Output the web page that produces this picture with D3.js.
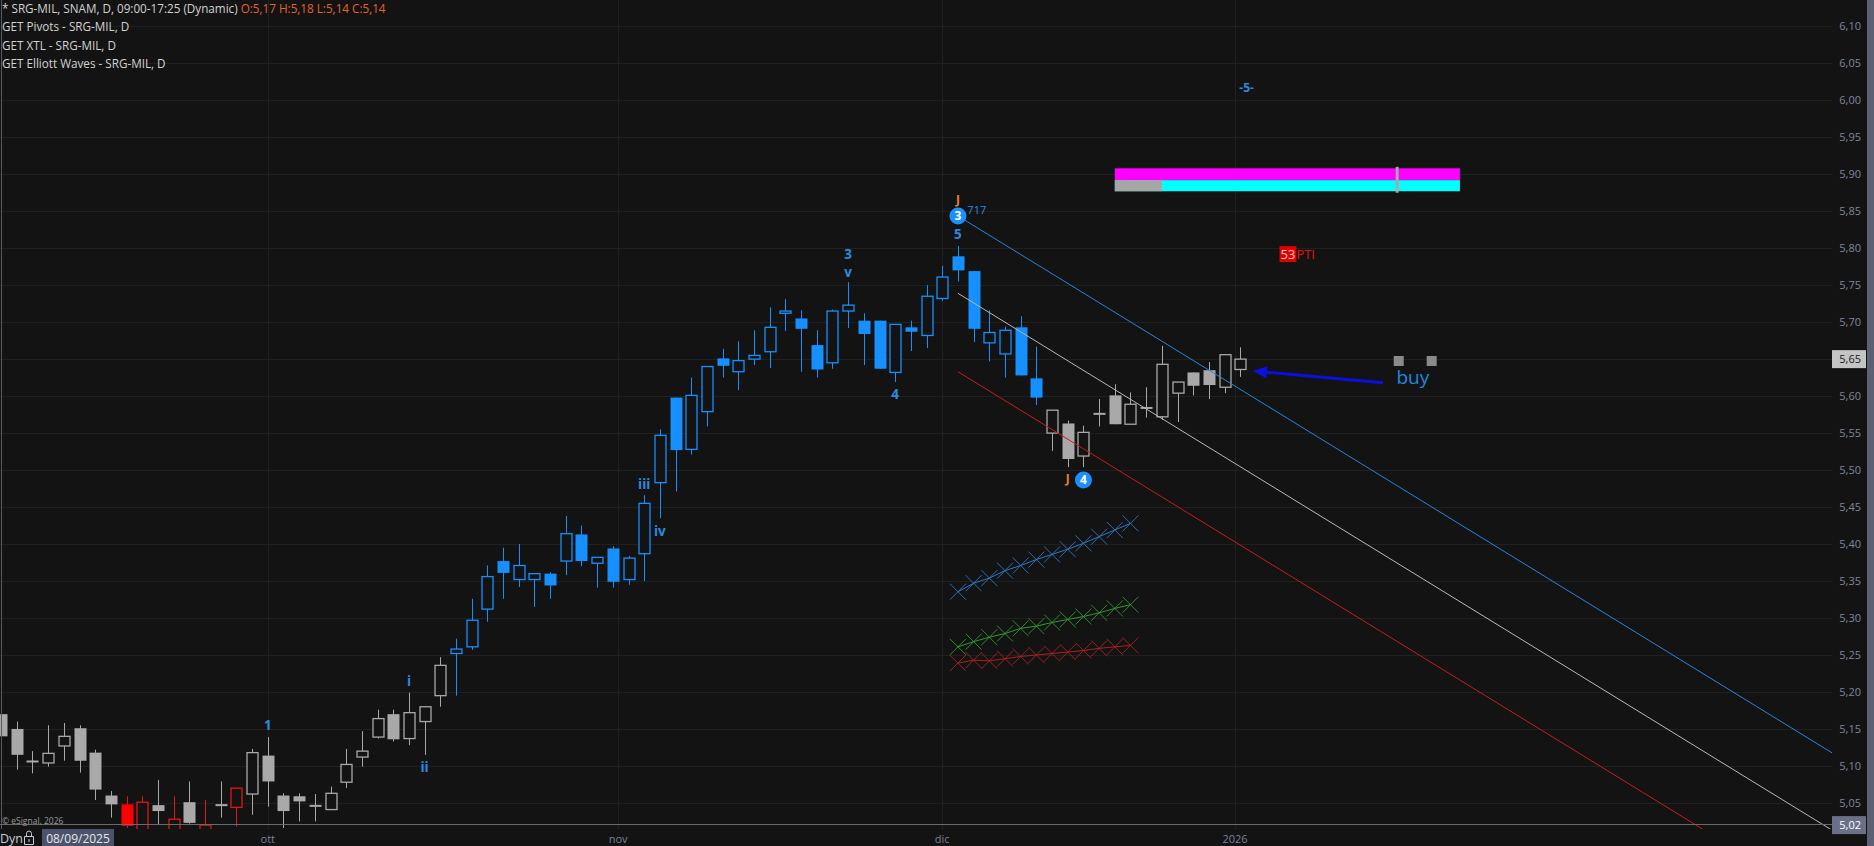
<!DOCTYPE html>
<html><head><meta charset="utf-8">
<script src="https://cdn.jsdelivr.net/npm/d3@7"></script>
<style>
html,body{margin:0;padding:0;background:#131313;overflow:hidden}
svg{display:block}
</style></head><body>
<svg id="c" width="1874" height="846"></svg>
<script>
// ---------------- DATA ----------------
const dates = ["2025-09-08","2025-09-09","2025-09-10","2025-09-11","2025-09-12",
"2025-09-15","2025-09-16","2025-09-17","2025-09-18","2025-09-19",
"2025-09-22","2025-09-23","2025-09-24","2025-09-25","2025-09-26",
"2025-09-29","2025-09-30","2025-10-01","2025-10-02","2025-10-03",
"2025-10-06","2025-10-07","2025-10-08","2025-10-09","2025-10-10",
"2025-10-13","2025-10-14","2025-10-15","2025-10-16","2025-10-17",
"2025-10-20","2025-10-21","2025-10-22","2025-10-23","2025-10-24",
"2025-10-27","2025-10-28","2025-10-29","2025-10-30","2025-10-31",
"2025-11-03","2025-11-04","2025-11-05","2025-11-06","2025-11-07",
"2025-11-10","2025-11-11","2025-11-12","2025-11-13","2025-11-14",
"2025-11-17","2025-11-18","2025-11-19","2025-11-20","2025-11-21",
"2025-11-24","2025-11-25","2025-11-26","2025-11-27","2025-11-28",
"2025-12-01","2025-12-02","2025-12-03","2025-12-04","2025-12-05",
"2025-12-08","2025-12-09","2025-12-10","2025-12-11","2025-12-12",
"2025-12-15","2025-12-16","2025-12-17","2025-12-18","2025-12-19",
"2025-12-22","2025-12-23","2025-12-29","2025-12-30","2026-01-02"];

const open = [5.17,5.15,5.106,5.104,5.127, 5.151,5.118,5.06,5.048,5.00,
5.047,5.00,5.051,5.00,5.047, 5.044,5.062,5.114,5.06,5.059,
5.046,5.041,5.078,5.112,5.139, 5.17,5.137,5.16,5.195,5.252,
5.261,5.312,5.377,5.352,5.352, 5.36,5.377,5.413,5.374,5.394,
5.352,5.387,5.483,5.598,5.528, 5.579,5.651,5.633,5.65,5.66,
5.712,5.705,5.669,5.645,5.715, 5.702,5.702,5.632,5.693,5.682,
5.732,5.789,5.769,5.672,5.657, 5.693,5.624,5.55,5.563,5.519,
5.576,5.601,5.562,5.584,5.572, 5.604,5.632,5.635,5.612,5.636];

const high = [5.18,5.16,5.12,5.155,5.158, 5.155,5.122,5.066,5.059,5.059,
5.081,5.059,5.079,5.054,5.079, 5.07,5.123,5.139,5.063,5.063,
5.062,5.072,5.123,5.147,5.176, 5.176,5.199,5.18,5.247,5.272,
5.326,5.371,5.395,5.40,5.36, 5.362,5.438,5.425,5.382,5.397,
5.384,5.466,5.555,5.598,5.625, 5.64,5.664,5.674,5.689,5.72,
5.731,5.716,5.689,5.717,5.754, 5.712,5.702,5.697,5.702,5.75,
5.776,5.803,5.769,5.716,5.694, 5.708,5.667,5.581,5.567,5.56,
5.596,5.616,5.605,5.612,5.668, 5.619,5.632,5.646,5.656,5.666];

const low = [5.14,5.095,5.09,5.099,5.107, 5.091,5.054,5.03,5.016,4.99,
5.02,4.99,5.022,4.99,5.03, 5.018,5.034,5.045,5.016,5.025,
5.025,5.041,5.07,5.099,5.137, 5.133,5.128,5.115,5.18,5.195,
5.257,5.295,5.326,5.342,5.315, 5.326,5.358,5.37,5.341,5.341,
5.345,5.35,5.435,5.471,5.521, 5.559,5.625,5.608,5.642,5.638,
5.688,5.633,5.625,5.637,5.692, 5.642,5.637,5.619,5.661,5.665,
5.729,5.755,5.673,5.647,5.625, 5.628,5.588,5.526,5.504,5.504,
5.559,5.562,5.562,5.571,5.568, 5.565,5.601,5.596,5.604,5.626];

const close = [5.14,5.115,5.106,5.117,5.14, 5.107,5.068,5.048,5.019,5.051,
5.039,5.028,5.023,5.02,5.047, 5.07,5.118,5.079,5.039,5.052,
5.046,5.063,5.102,5.12,5.164, 5.136,5.172,5.18,5.236,5.258,
5.297,5.356,5.361,5.371,5.36, 5.344,5.414,5.377,5.382,5.349,
5.381,5.455,5.547,5.527,5.601, 5.64,5.641,5.648,5.655,5.693,
5.715,5.691,5.636,5.715,5.723, 5.684,5.637,5.697,5.687,5.735,
5.761,5.77,5.691,5.686,5.689, 5.628,5.598,5.581,5.515,5.551,
5.576,5.562,5.589,5.584,5.643, 5.619,5.614,5.615,5.656,5.65];

// bar state: n = neutral, r = down regime, b = up regime
const barState = ["nnnnnnnnrrnrnrnr","nnnnnnnnnnnnn","bbbbbbbbbb","bbbbbbbbbb","bbbbbbbbbb","bbbbbbbb","nnnnnnnnnnnnn"].join("").split("");

const yTicks = [5.05,5.10,5.15,5.20,5.25,5.30,5.35,5.40,5.45,5.50,5.55,5.60,5.65,5.70,5.75,5.80,5.85,5.90,5.95,6.00,6.05,6.10];
const monthStarts = ["2025-10-01","2025-11-01","2025-12-01","2026-01-01"];
const monthLabels = ["ott","nov","dic","2026"];

const headerSymbol = "* SRG-MIL, SNAM, D, 09:00-17:25 (Dynamic)";
const studyLines = ["GET Pivots - SRG-MIL, D","GET XTL - SRG-MIL, D","GET Elliott Waves - SRG-MIL, D"];

// Elliott wave labels: [text, bar index, price]
const waveLabels = [["1",17,5.155],["i",26,5.214],["ii",27,5.098],["iii",41,5.481],["iv",42,5.418],
  ["3",54,5.792],["v",54,5.768],["4",57,5.603],["5",61,5.819]];
const circleLabels = [["3",61,5.8435],["4",69,5.4866]];
const jLabels = [["J",61,5.866],["J",68,5.488]];
const smallLabels = [["717",61.6,5.852],["-5-",79.4,6.017]];

// XTL channel lines: [startIndex, startPrice, endIndex, endPrice]
const channelBlue = [61, 5.8436, 117, 5.1141];
const channelMid  = [61, 5.739, 117, 5.0095];
const channelRed  = [61, 5.633, 117, 4.9035];

// projection bands (one point per bar from index 61)
const bandStart = 61;
const bandBlue  = [5.3355,5.347,5.354,5.364,5.371,5.379,5.386,5.393,5.401,5.410,5.419,5.428];
const bandGreen = [5.261,5.268,5.274,5.279,5.286,5.289,5.294,5.298,5.302,5.307,5.313,5.318];
const bandRed   = [5.239,5.243,5.242,5.245,5.248,5.250,5.252,5.254,5.256,5.259,5.261,5.263];

// pivot zone: [i0, i1, priceTop, priceBottom]
const pivotUpper = [71, 93, 5.908, 5.892];
const pivotLower = [71, 93, 5.892, 5.877];
const pivotLowerGray = [71, 74, 5.892, 5.877];
const pivotTick = [89, 5.910, 5.875];

const signalText = ["53","PTI", 81.5, 5.792];
const buyText = ["buy", 90.0, 5.616];
const buyMarks = [[89.1, 5.6475],[91.2, 5.6475]];
const buyArrow = [[88.1, 5.618],[79.8, 5.634]];

const cursorPrice = 5.02;
const cursorDate = "08/09/2025";
const lastPrice = close[close.length-1];

// ---------------- CHART ----------------
const W = 1874, H = 846;
const plotR = 1832, plotB = 829;
const BG = "#131313";
const col = {n:"#a9a9a9", r:"#ff0000", b:"#1690ff"};
const colLine = {n:"#a9a9a9", r:"#e01616", b:"#1690ff"};

const svg = d3.select("#c");
svg.append("rect").attr("width",W).attr("height",H).attr("fill",BG);

const x = d3.scaleLinear().domain([0,79]).range([1.1,1240.3]);
const y = d3.scaleLinear().domain([5.02,6.10]).range([825.1,26.3]);

const itLocale = d3.formatLocale({decimal:",",thousands:".",grouping:[3],currency:["€",""]});
const f2 = itLocale.format(".2f");

svg.append("clipPath").attr("id","plot").append("rect").attr("x",0).attr("y",0).attr("width",plotR).attr("height",plotB);
const g = svg.append("g").attr("clip-path","url(#plot)");

// grid
g.append("g").selectAll("line").data(yTicks).join("line")
  .attr("x1",0).attr("x2",plotR).attr("y1",d=>Math.round(y(d))+0.5).attr("y2",d=>Math.round(y(d))+0.5)
  .attr("stroke","#202020").attr("stroke-width",1);

const parse = d3.timeParse("%Y-%m-%d");
const dt = dates.map(parse);
function dateToIndex(d){
  for(let k=0;k<dt.length-1;k++){
    if(d>=dt[k] && d<dt[k+1]) return k + (d-dt[k])/(dt[k+1]-dt[k]);
  }
  return dt.length-1;
}
const monthPos = monthStarts.map(s=>x(dateToIndex(parse(s))));
g.append("g").selectAll("line").data(monthPos).join("line")
  .attr("x1",d=>Math.round(d)+0.5).attr("x2",d=>Math.round(d)+0.5).attr("y1",0).attr("y2",plotB)
  .attr("stroke","#202020");

// projection bands
function drawBand(vals, color){
  const pts = vals.map((v,k)=>[x(bandStart+k), y(v)]);
  g.append("path").attr("d", d3.line()(pts)).attr("fill","none").attr("stroke",color).attr("stroke-width",1);
  const s = 8;
  g.append("g").selectAll("path").data(pts).join("path")
    .attr("d",p=>`M${p[0]-s},${p[1]-s}L${p[0]+s},${p[1]+s}M${p[0]-s},${p[1]+s}L${p[0]+s},${p[1]-s}`)
    .attr("stroke",color).attr("stroke-width",0.9).attr("fill","none");
}
drawBand(bandBlue, "#2f78c4");
drawBand(bandGreen, "#2f9a2f");
drawBand(bandRed, "#a82222");

// candles
const idx = d3.range(dates.length);
const bw = 12;
const cg = g.append("g");
cg.selectAll("line.w").data(idx).join("line").attr("class","w")
  .attr("x1",i=>Math.round(x(i))+0.5).attr("x2",i=>Math.round(x(i))+0.5)
  .attr("y1",i=>y(high[i])).attr("y2",i=>y(low[i]))
  .attr("stroke",i=>colLine[barState[i]]).attr("stroke-width",1);
idx.forEach(i=>{
  const cx = Math.round(x(i))+0.5;
  const o = open[i], c = close[i], st = barState[i];
  if (Math.abs(o-c) < 0.0015){
    cg.append("line").attr("x1",cx-bw/2).attr("x2",cx+bw/2).attr("y1",y(o)).attr("y2",y(o))
      .attr("stroke",colLine[st]).attr("stroke-width",2);
  } else if (c < o){
    cg.append("rect").attr("x",cx-bw/2).attr("width",bw).attr("y",y(o)).attr("height",y(c)-y(o))
      .attr("fill",col[st]);
  } else {
    cg.append("rect").attr("x",cx-bw/2+0.5).attr("width",bw-1).attr("y",y(c)).attr("height",y(o)-y(c))
      .attr("fill",BG).attr("stroke",colLine[st]).attr("stroke-width",1.3);
  }
});

// channel lines
[[channelBlue,"#2b84d8"],[channelMid,"#b8b8b8"],[channelRed,"#c81c1c"]].forEach(([l,c])=>{
  g.append("line").attr("x1",x(l[0])).attr("y1",y(l[1])).attr("x2",x(l[2])).attr("y2",y(l[3]))
    .attr("stroke",c).attr("stroke-width",1);
});

// pivot zone
function zone(z,c){ g.append("rect").attr("x",x(z[0])).attr("width",x(z[1])-x(z[0])).attr("y",y(z[2])).attr("height",y(z[3])-y(z[2])).attr("fill",c); }
zone(pivotUpper,"#ff00ff");
zone(pivotLower,"#00ffff");
zone(pivotLowerGray,"#a6a6a6");
g.append("rect").attr("x",x(pivotTick[0])-1.5).attr("width",3).attr("y",y(pivotTick[1])).attr("height",y(pivotTick[2])-y(pivotTick[1])).attr("fill","#a8a8a8");

// wave labels
const lblFont = "'Open Sans', 'Noto Sans', sans-serif";
g.append("g").selectAll("text").data(waveLabels).join("text")
  .attr("x",d=>x(d[1])).attr("y",d=>y(d[2])).attr("dy","0.36em").attr("text-anchor","middle")
  .attr("font-family",lblFont).attr("font-weight",700).attr("font-size",13.5).attr("fill","#2a8be0").text(d=>d[0]);
circleLabels.forEach(d=>{
  g.append("circle").attr("cx",x(d[1])).attr("cy",y(d[2])).attr("r",8.5).attr("fill","#1a8fff");
  g.append("text").attr("x",x(d[1])).attr("y",y(d[2])).attr("dy","0.36em").attr("text-anchor","middle")
   .attr("font-family",lblFont).attr("font-weight",700).attr("font-size",12).attr("fill","#ffffff").text(d[0]);
});
g.append("g").selectAll("text").data(jLabels).join("text")
  .attr("x",d=>x(d[1])).attr("y",d=>y(d[2])).attr("dy","0.36em").attr("text-anchor","middle")
  .attr("font-family",lblFont).attr("font-weight",700).attr("font-size",12).attr("fill","#e8803c").text(d=>d[0]);
g.append("g").selectAll("text").data(smallLabels).join("text")
  .attr("x",d=>x(d[1])).attr("y",d=>y(d[2])).attr("dy","0.36em").attr("text-anchor",(d,k)=>k===0?"start":"middle")
  .attr("font-family",lblFont).attr("font-size",(d,k)=>k===0?11:12).attr("font-weight",(d,k)=>k===0?400:700)
  .attr("fill","#2a8be0").text(d=>d[0]);

// signal text
const sx = x(signalText[2]), sy = y(signalText[3]);
const st1 = g.append("text").attr("x",sx+1).attr("y",sy).attr("dy","0.36em")
  .attr("font-family",lblFont).attr("font-size",13).attr("fill","#ffc8c8").text(signalText[0]);
const bb = st1.node().getBBox();
g.insert("rect", () => st1.node()).attr("x",bb.x-1).attr("y",sy-8).attr("width",bb.width+2).attr("height",16).attr("fill","#e00000");
g.append("text").attr("x",bb.x+bb.width+1).attr("y",sy).attr("dy","0.36em")
  .attr("font-family",lblFont).attr("font-size",13).attr("fill","#e01515").text(signalText[1]);

// buy annotation
g.append("g").selectAll("rect").data(buyMarks).join("rect")
  .attr("x",d=>x(d[0])-5).attr("y",d=>y(d[1])-5).attr("width",10).attr("height",10).attr("fill","#8a8a8a");
g.append("text").attr("x",x(buyText[1])).attr("y",y(buyText[2])).attr("text-anchor","middle")
  .attr("font-family",lblFont).attr("font-size",19).attr("fill","#1e8ae0").text(buyText[0]);
{
  const [a,b] = buyArrow;
  const x1=x(a[0]), y1=y(a[1]), x2=x(b[0]), y2=y(b[1]);
  const ang = Math.atan2(y2-y1,x2-x1);
  const hl = 14, hw = 6;
  const bx = x2 - hl*Math.cos(ang), by = y2 - hl*Math.sin(ang);
  g.append("line").attr("x1",x1).attr("y1",y1).attr("x2",bx).attr("y2",by).attr("stroke","#0a10e0").attr("stroke-width",3);
  g.append("path").attr("d",`M${x2},${y2}L${bx - hw*Math.sin(ang)},${by + hw*Math.cos(ang)}L${bx + hw*Math.sin(ang)},${by - hw*Math.cos(ang)}Z`).attr("fill","#0a10e0");
}

// crosshair
svg.append("line").attr("x1",1.5).attr("x2",1.5).attr("y1",0).attr("y2",plotB).attr("stroke","#5a5a5a");
svg.append("line").attr("x1",0).attr("x2",plotR).attr("y1",Math.round(y(cursorPrice))-0.5).attr("y2",Math.round(y(cursorPrice))-0.5).attr("stroke","#6a6a6a");

// header
const hf = "'Open Sans', 'Noto Sans', sans-serif";
const h1 = svg.append("text").attr("x",2).attr("y",12.5).attr("font-family",hf).attr("font-size",11.7).attr("fill","#d2d2d2");
h1.append("tspan").text(headerSymbol + " ");
h1.append("tspan").attr("fill","#e8622e").text(`O:${f2(open[0])} H:${f2(high[0])} L:${f2(low[0])} C:${f2(close[0])}`);
svg.append("g").selectAll("text").data(studyLines).join("text")
  .attr("x",2).attr("y",(d,k)=>31+k*18.5).attr("font-family",hf).attr("font-size",11.7).attr("fill","#d2d2d2").text(d=>d);

// copyright
svg.append("text").attr("x",2).attr("y",824).attr("font-family",hf).attr("font-size",8.5).attr("fill","#9a9a9a").text("© eSignal, 2026");

// right axis
const ax = svg.append("g");
ax.selectAll("text").data(yTicks.filter(v=>Math.abs(v-lastPrice)>0.01)).join("text")
  .attr("x",1861).attr("y",d=>y(d)).attr("dy","0.36em").attr("text-anchor","end")
  .attr("font-family",hf).attr("font-size",11).attr("fill","#80859a").text(d=>f2(d));
ax.append("rect").attr("x",1832).attr("y",y(lastPrice)-9).attr("width",34).attr("height",18).attr("fill","#c4c4c4");
ax.append("text").attr("x",1861).attr("y",y(lastPrice)).attr("dy","0.36em").attr("text-anchor","end")
  .attr("font-family",hf).attr("font-size",11).attr("fill","#1a1a1a").text(f2(lastPrice));
ax.append("rect").attr("x",1832).attr("y",y(cursorPrice)-9).attr("width",34).attr("height",18).attr("fill","#6b7089");
ax.append("text").attr("x",1861).attr("y",y(cursorPrice)).attr("dy","0.36em").attr("text-anchor","end")
  .attr("font-family",hf).attr("font-size",11).attr("fill","#ffffff").text(f2(cursorPrice));
svg.append("rect").attr("x",1867).attr("y",0).attr("width",7).attr("height",H).attr("fill","#5b6072");

// bottom axis labels
svg.append("g").selectAll("text").data(monthLabels).join("text")
  .attr("x",(d,k)=>monthPos[k]).attr("y",842.5).attr("text-anchor","middle")
  .attr("font-family",hf).attr("font-size",11).attr("fill","#7c8196").text(d=>d);

svg.append("text").attr("x",0).attr("y",842.5).attr("font-family",hf).attr("font-size",12.5).attr("fill","#c8ccd8").text("Dyn");
// lock icon
svg.append("path").attr("d","M24.5,836.5h9v8h-9z").attr("fill","none").attr("stroke","#c8ccd8").attr("stroke-width",1);
svg.append("path").attr("d","M26.5,836.5v-3a2.5,2.5 0 0 1 5,0v3").attr("fill","none").attr("stroke","#c8ccd8").attr("stroke-width",1);
svg.append("rect").attr("x",28.5).attr("y",839).attr("width",1).attr("height",3).attr("fill","#c8ccd8");
svg.append("rect").attr("x",42).attr("y",829).attr("width",72).attr("height",17).attr("fill","#4c5269");
svg.append("text").attr("x",78).attr("y",842.5).attr("text-anchor","middle").attr("font-family",hf).attr("font-size",12).attr("fill","#e6e8f0").text(cursorDate);
</script>
</body></html>
